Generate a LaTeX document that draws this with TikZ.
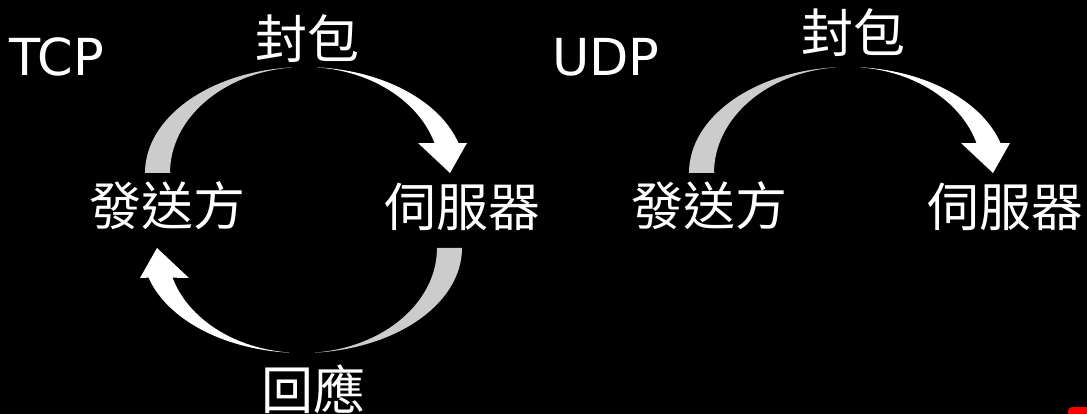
\documentclass[tikz,border=0pt]{standalone}
\usepackage{fontspec}
\setmainfont{DejaVu Sans}
\newfontfamily\cjk{Noto Sans CJK TC}
\definecolor{backgray}{HTML}{CCCCCC}

\begin{document}
\begin{tikzpicture}[x=1pt,y=-1pt,
  word/.style={text=white,inner sep=0pt,font=\cjk\fontsize{52}{52}\selectfont},
  proto/.style={text=white,inner sep=0pt,font=\fontsize{51}{51}\selectfont},
  back/.style={fill=backgray},
  front/.style={fill=white}]
\useasboundingbox (0,0) rectangle (1087,414);
\fill[black] (0,0) rectangle (1087,414);
\fill[red,rounded corners=4pt] (1068,407) rectangle (1100,430);

% labels
\node[proto] (tcp) at (57,57) {TCP};
\node[proto] (udp) at (606,57) {UDP};
\node[word] (pkt1) at (307,39) {封包};
\node[word] (snd1) at (167,206) {發送方};
\node[word] (srv1) at (462,207) {伺服器};
\node[word] (ack) at (313,389) {回應};
\node[word] (pkt2) at (853,33) {封包};
\node[word] (snd2) at (709,206) {發送方};
\node[word] (srv2) at (1005,207) {伺服器};

% centres of the curved arrows
\coordinate (send1) at (305,173);
\coordinate (back1) at (302,248);
\coordinate (send2) at (848,173);

% TCP: sender -> server
\begin{scope}[shift={(send1)}]
\fill[back] (180:160 and 106) arc[start angle=180,end angle=264.6,x radius=160,y radius=106]
  -- (264.6:135 and 106) arc[start angle=264.6,end angle=180,x radius=135,y radius=106] -- cycle;
\fill[front] (275.4:160 and 106) arc[start angle=275.4,end angle=343.6,x radius=160,y radius=106]
  -- (162,-30) -- (145,0) -- (113,-30)
  -- (343.6:135 and 106) arc[start angle=343.6,end angle=275.4,x radius=135,y radius=106] -- cycle;
\end{scope}
% TCP: server -> sender
\begin{scope}[shift={(back1)},rotate=180]
\fill[back] (180:160 and 105) arc[start angle=180,end angle=264.6,x radius=160,y radius=105]
  -- (264.6:135 and 105) arc[start angle=264.6,end angle=180,x radius=135,y radius=105] -- cycle;
\fill[front] (275.4:160 and 105) arc[start angle=275.4,end angle=343.6,x radius=160,y radius=105]
  -- (162,-30) -- (145,0) -- (113,-30)
  -- (343.6:135 and 105) arc[start angle=343.6,end angle=275.4,x radius=135,y radius=105] -- cycle;
\end{scope}
% UDP: sender -> server
\begin{scope}[shift={(send2)}]
\fill[back] (180:159 and 106) arc[start angle=180,end angle=264.6,x radius=159,y radius=106]
  -- (264.6:134 and 106) arc[start angle=264.6,end angle=180,x radius=134,y radius=106] -- cycle;
\fill[front] (275.4:159 and 106) arc[start angle=275.4,end angle=343.6,x radius=159,y radius=106]
  -- (162,-30) -- (145,0) -- (113,-30)
  -- (343.6:134 and 106) arc[start angle=343.6,end angle=275.4,x radius=134,y radius=106] -- cycle;
\end{scope}
\end{tikzpicture}
\end{document}
